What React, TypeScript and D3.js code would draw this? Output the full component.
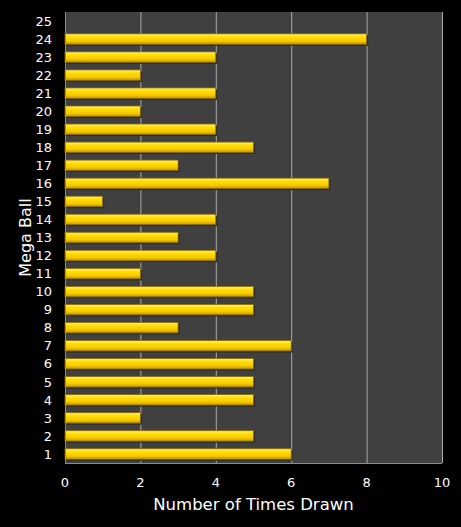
import { useEffect, useRef } from 'react';
import * as d3 from 'd3';

const balls = d3.range(1, 26).map(String);
const timesDrawn = [6, 5, 2, 5, 5, 5, 6, 3, 5, 5, 2, 4, 3, 4, 1, 7, 3, 5, 4, 2, 4, 2, 4, 8, 0];
const xTicks = [0, 2, 4, 6, 8, 10];

const W = 461;
const H = 527;

export default function App() {
  const svgRef = useRef<SVGSVGElement>(null);

  useEffect(() => {
    if (!svgRef.current) return;
    const svg = d3.select(svgRef.current);
    svg.selectAll('*').remove();

    const left = 65, right = 442, top = 12, bottom = 463;
    const font = '"DejaVu Sans", Verdana, sans-serif';

    const x = d3.scaleLinear().domain([0, 10]).range([left, right]);
    const y = d3.scaleBand().domain(balls).range([bottom, top]).paddingInner(0.42).paddingOuter(0.21);

    svg.append('rect').attr('width', W).attr('height', H).attr('fill', '#000');

    const defs = svg.append('defs');
    const grad = defs.append('linearGradient').attr('id', 'barGrad')
      .attr('x1', 0).attr('y1', 0).attr('x2', 0).attr('y2', 1);
    [['0%', '#fff07a'], ['30%', '#ffde00'], ['70%', '#f5c800'], ['100%', '#c29200']].forEach(([o, c]) =>
      grad.append('stop').attr('offset', o).attr('stop-color', c));

    svg.append('rect')
      .attr('x', left).attr('y', top)
      .attr('width', right - left).attr('height', bottom - top)
      .attr('fill', '#404040');

    svg.append('g').selectAll('line')
      .data(xTicks.filter((t) => t > 0))
      .join('line')
      .attr('x1', (d) => x(d) + 0.5).attr('x2', (d) => x(d) + 0.5)
      .attr('y1', top).attr('y2', bottom)
      .attr('stroke', '#a8a8a8').attr('stroke-width', 1);

    const barData = timesDrawn.map((v, i) => ({ ball: balls[i], v })).filter((d) => d.v > 0);

    // soft shadow behind bars
    svg.append('g').selectAll('rect')
      .data(barData)
      .join('rect')
      .attr('x', x(0))
      .attr('y', (d) => y(d.ball)! + 1.5)
      .attr('width', (d) => x(d.v) - x(0) + 1.5)
      .attr('height', y.bandwidth())
      .attr('fill', '#2a2a2a');

    svg.append('g').selectAll('rect')
      .data(barData)
      .join('rect')
      .attr('x', x(0))
      .attr('y', (d) => y(d.ball)!)
      .attr('width', (d) => x(d.v) - x(0))
      .attr('height', y.bandwidth())
      .attr('fill', 'url(#barGrad)')
      .attr('stroke', '#8a6a00')
      .attr('stroke-width', 0.8);

    // axis lines
    svg.append('line').attr('x1', left + 0.5).attr('x2', left + 0.5).attr('y1', top).attr('y2', bottom)
      .attr('stroke', '#8c8c8c');
    svg.append('line').attr('x1', left).attr('x2', right).attr('y1', bottom + 0.5).attr('y2', bottom + 0.5)
      .attr('stroke', '#8c8c8c');

    svg.append('g').selectAll('text')
      .data(balls)
      .join('text')
      .attr('x', 52)
      .attr('y', (d) => y(d)! + y.bandwidth() / 2)
      .attr('dy', '0.36em')
      .attr('text-anchor', 'end')
      .attr('fill', '#fff')
      .style('font-family', font)
      .style('font-size', '13px')
      .text((d) => d);

    svg.append('g').selectAll('text')
      .data(xTicks)
      .join('text')
      .attr('x', (d) => x(d))
      .attr('y', 487)
      .attr('text-anchor', 'middle')
      .attr('fill', '#fff')
      .style('font-family', font)
      .style('font-size', '13px')
      .text((d) => d);

    svg.append('text')
      .attr('x', (left + right) / 2)
      .attr('y', 510)
      .attr('text-anchor', 'middle')
      .attr('fill', '#fff')
      .style('font-family', font)
      .style('font-size', '16.5px')
      .text('Number of Times Drawn');

    svg.append('text')
      .attr('transform', `translate(31,${(top + bottom) / 2}) rotate(-90)`)
      .attr('text-anchor', 'middle')
      .attr('fill', '#fff')
      .style('font-family', font)
      .style('font-size', '16px')
      .text('Mega Ball');
  }, []);

  return (
    <svg
      ref={svgRef}
      width={W}
      height={H}
      style={{ position: 'absolute', left: 0, top: 0, display: 'block' }}
    />
  );
}
